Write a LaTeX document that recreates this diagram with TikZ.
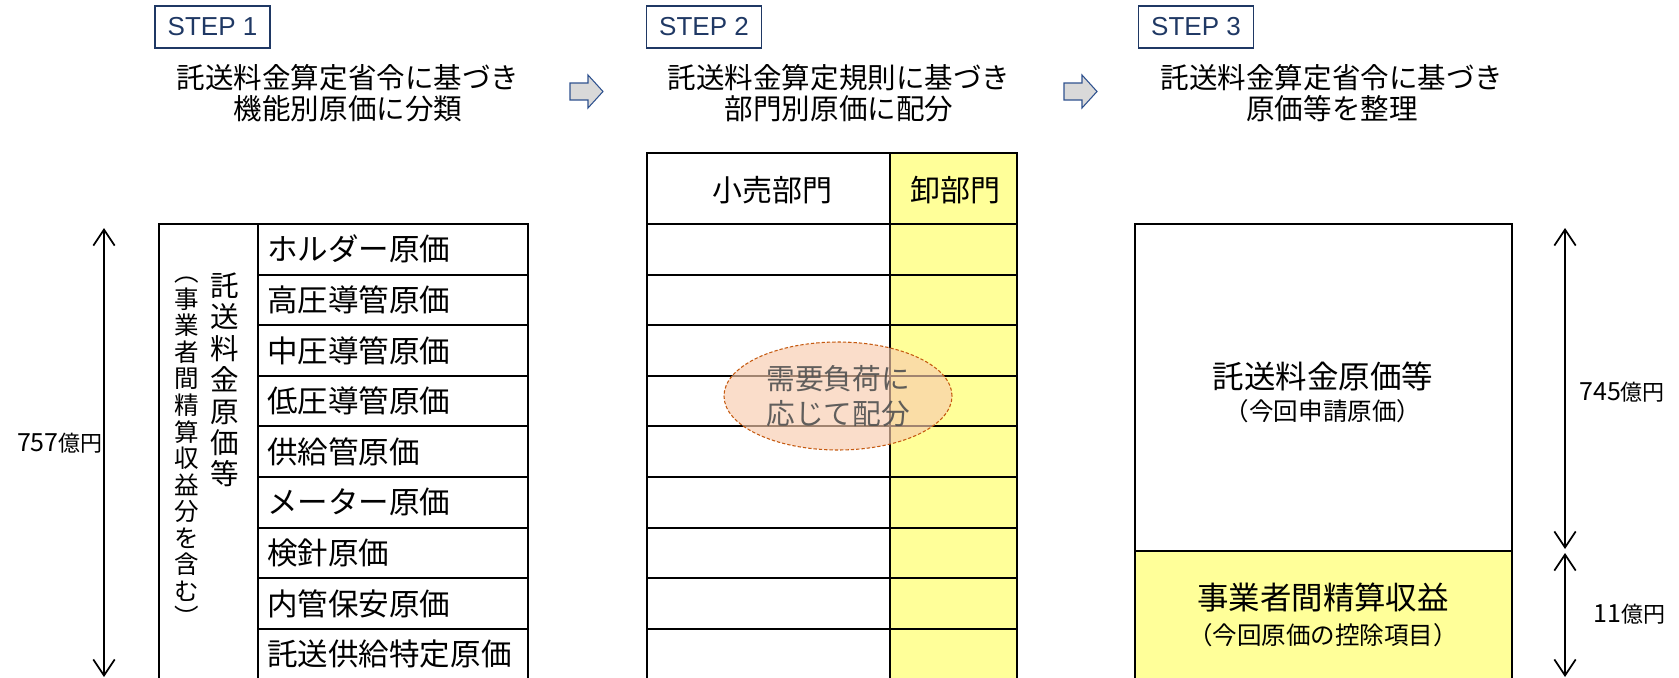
\documentclass[tikz,border=0pt]{standalone}
\usepackage{fontspec}
\setmainfont{Noto Sans CJK JP}
\newfontfamily\latinfont{Liberation Sans}
\usetikzlibrary{arrows.meta,shapes.geometric}

\definecolor{stepnavy}{RGB}{31,56,100}
\definecolor{cellyellow}{RGB}{255,255,153}
\definecolor{peach}{RGB}{248,203,173}
\definecolor{peachline}{RGB}{197,90,17}
\definecolor{arrowfill}{RGB}{217,217,217}
\definecolor{arrowline}{RGB}{47,82,143}
\definecolor{notegray}{RGB}{80,80,80}

\newcommand\okuyen[1]{{\fontsize{18.75pt}{20pt}\selectfont #1}{\fontsize{16.5pt}{18pt}\selectfont 億円}}

\tikzset{
  stepbox/.style={draw=stepnavy, line width=1.1pt, text=stepnavy, inner sep=0pt,
    font=\latinfont\fontsize{19.5pt}{22pt}\selectfont, minimum width=86.25pt, minimum height=31.5pt},
  titletext/.style={align=center, inner sep=0pt, font=\fontsize{21.4pt}{23.25pt}\selectfont},
  cell/.style={line width=1.5pt},
  celltext/.style={anchor=west, inner sep=0pt, font=\fontsize{22.9pt}{24pt}\selectfont},
  headtext/.style={inner sep=0pt, font=\fontsize{22.5pt}{24pt}\selectfont},
  nextarrow/.style={fill=arrowfill, draw=arrowline, line width=0.8pt},
  dimarrow/.style={line width=1.3pt, {Straight Barb[length=12pt,width=16pt]}-{Straight Barb[length=12pt,width=16pt]}},
}

\begin{document}
\begin{tikzpicture}[x=0.75pt, y=-0.75pt]
    \useasboundingbox (0,0) rectangle (1679,678);

    % steps and titles
    \node[stepbox] (step1) at (212.5,27) {STEP 1};
    \node[stepbox] (step2) at (704,27) {STEP 2};
    \node[stepbox] (step3) at (1196,27) {STEP 3};
    \node[titletext] (title1) at (348,93.5) {託送料金算定省令に基づき\\機能別原価に分類};
    \node[titletext] (title2) at (839,93.5) {託送料金算定規則に基づき\\部門別原価に配分};
    \node[titletext] (title3) at (1332,93.5) {託送料金算定省令に基づき\\原価等を整理};

    \foreach \ax in {570,1064}
        \filldraw[nextarrow] (\ax,83) -- (\ax+18,83) -- (\ax+18,75) -- (\ax+33,91.5)
            -- (\ax+18,108) -- (\ax+18,100) -- (\ax,100) -- cycle;

    % STEP 1
    \draw[cell] (159,224) rectangle (258,690);
    \foreach \lbl [count=\i from 0] in {ホルダー原価,高圧導管原価,中圧導管原価,低圧導管原価,
        供給管原価,メーター原価,検針原価,内管保安原価,託送供給特定原価} {
        \draw[cell] (258,{224+50.6*\i}) rectangle (528,{274.6+50.6*\i});
        \node[celltext] (cost\i) at (267,{249.3+50.6*\i}) {\lbl};
    }
    \node[align=center, inner sep=0pt, font=\fontsize{21.4pt}{23.55pt}\selectfont] (vtitle) at (225,380)
        {託\\送\\料\\金\\原\\価\\等};
    \node[align=center, inner sep=0pt, font=\fontsize{18.4pt}{19.9pt}\selectfont] (vnote) at (187,452)
        {︵\\事\\業\\者\\間\\精\\算\\収\\益\\分\\を\\含\\む\\︶};

    \coordinate (totaltop) at (104,228);
    \coordinate (totalbot) at (104,677);
    \draw[dimarrow] (totaltop) -- (totalbot);
    \node[anchor=east, inner sep=0pt] (total) at (103,443) {\okuyen{757}};

    % STEP 2
    \fill[cellyellow] (890,153) rectangle (1017,690);
    \draw[cell] (647,153) rectangle (1017,690);
    \draw[cell] (890,153) -- (890,690);
    \foreach \i in {0,...,8}
        \draw[cell] (647,{224+50.6*\i}) -- (1017,{224+50.6*\i});
    \node[headtext] (retail) at (772,190) {小売部門};
    \node[headtext] (wholesale) at (955,190) {卸部門};
    \node[ellipse, draw=peachline, dash pattern=on 2.5pt off 1.5pt, line width=0.8pt,
        fill=peach, fill opacity=0.65, text=notegray, text opacity=0.9, align=center,
        minimum width=171pt, minimum height=81pt, inner sep=0pt,
        font=\fontsize{21.5pt}{26.25pt}\selectfont] (alloc) at (838,396) {需要負荷に\\応じて配分};

    % STEP 3
    \draw[cell] (1135,224) rectangle (1512,551);
    \filldraw[cell, fill=cellyellow] (1135,551) rectangle (1512,690);
    \node[inner sep=0pt, font=\fontsize{23.6pt}{25pt}\selectfont] (tariff) at (1323,376) {託送料金原価等};
    \node[inner sep=0pt, font=\fontsize{18.4pt}{20pt}\selectfont] (tariffnote) at (1323,411) {（今回申請原価）};
    \node[inner sep=0pt, font=\fontsize{23.6pt}{25pt}\selectfont] (settle) at (1323,598) {事業者間精算収益};
    \node[inner sep=0pt, font=\fontsize{18.4pt}{20pt}\selectfont] (settlenote) at (1323,635) {（今回原価の控除項目）};

    \coordinate (s3top) at (1565,228);
    \coordinate (s3upper) at (1565,549);
    \coordinate (s3lower) at (1565,553);
    \coordinate (s3bot) at (1565,677);
    \draw[dimarrow] (s3top) -- (s3upper);
    \draw[dimarrow] (s3lower) -- (s3bot);
    \node[anchor=west, inner sep=0pt] (tariffamt) at (1579,392) {\okuyen{745}};
    \node[anchor=west, inner sep=0pt] (settleamt) at (1593,614) {\okuyen{11}};
\end{tikzpicture}
\end{document}
